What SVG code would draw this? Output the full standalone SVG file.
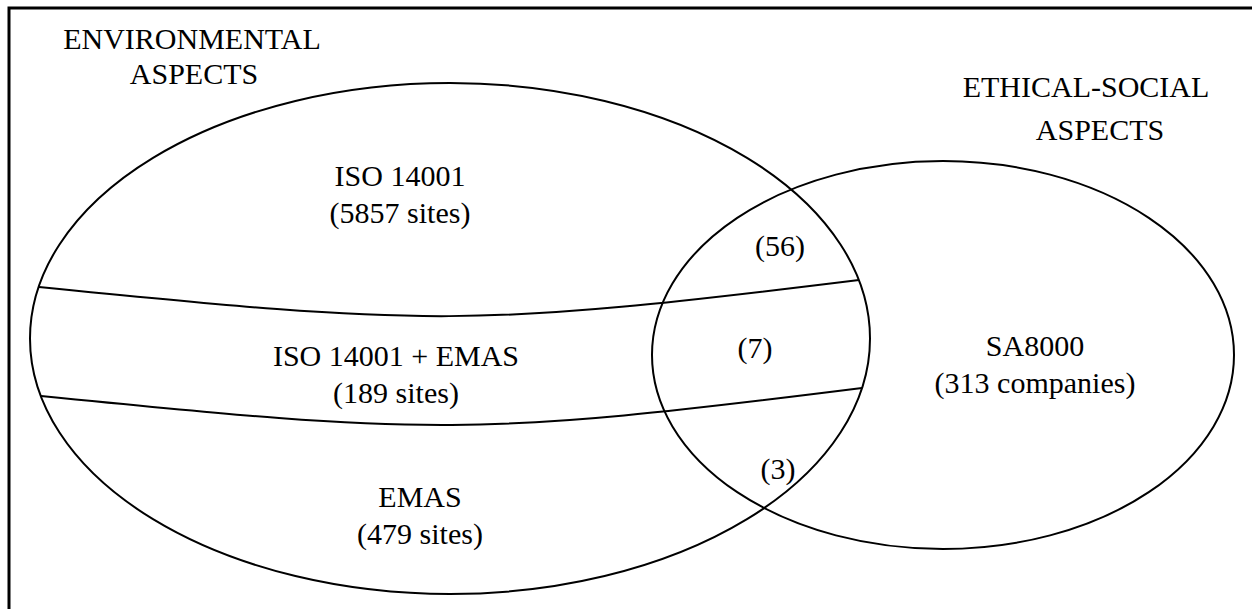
<svg xmlns="http://www.w3.org/2000/svg" width="1252" height="609" viewBox="0 0 1252 609">
<style>
.t{font-family:"Liberation Serif","Times New Roman",serif;font-size:30px;fill:#000;text-anchor:middle}
.s{fill:none;stroke:#000;stroke-width:2}
</style>
<rect x="0" y="0" width="1252" height="609" fill="#fff"/>
<g id="frame"><path d="M9,609 V8 H1252" fill="none" stroke="#000" stroke-width="3"/></g>
<g id="environmental">
<ellipse class="s" cx="450" cy="338.5" rx="420" ry="255.5"/>
<text class="t" x="192" y="49">ENVIRONMENTAL</text>
<text class="t" x="194" y="84">ASPECTS</text>
</g>
<g id="ethical">
<ellipse class="s" cx="943" cy="355" rx="291" ry="194"/>
<text class="t" x="1086" y="97">ETHICAL-SOCIAL</text>
<text class="t" x="1100" y="140">ASPECTS</text>
</g>
<g id="bands">
<path class="s" d="M39,287 C429,326 470,328 859,280"/>
<path class="s" d="M41,396 C431,435 472,437 862,388"/>
</g>
<g id="iso"><text class="t" x="400" y="186">ISO 14001</text><text class="t" x="400" y="223">(5857 sites)</text></g>
<g id="iso-emas"><text class="t" x="396" y="366">ISO 14001 + EMAS</text><text class="t" x="396" y="403">(189 sites)</text></g>
<g id="emas"><text class="t" x="420" y="507">EMAS</text><text class="t" x="420" y="544">(479 sites)</text></g>
<g id="sa8000"><text class="t" x="1035" y="356">SA8000</text><text class="t" x="1035" y="393">(313 companies)</text></g>
<g id="o56"><text class="t" x="780" y="256">(56)</text></g>
<g id="o7"><text class="t" x="755" y="358">(7)</text></g>
<g id="o3"><text class="t" x="778" y="479">(3)</text></g>
</svg>
